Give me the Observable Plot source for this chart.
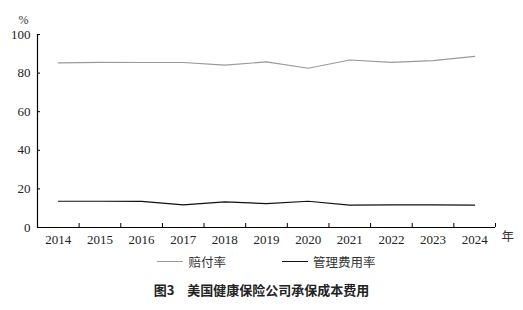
<!DOCTYPE html>
<html><head><meta charset="utf-8">
<script src="https://cdn.jsdelivr.net/npm/d3@7"></script>
<script src="https://cdn.jsdelivr.net/npm/@observablehq/plot@0.6"></script>
<style>
body{margin:0;background:#fff;}
#wrap{width:523px;}
#wrap svg text{font-family:"Liberation Serif","Times New Roman","DejaVu Serif",serif !important;}
#wrap svg text.cjk{font-family:"Noto Sans CJK SC",sans-serif !important;}
.leg{display:flex;justify-content:center;align-items:center;height:22px;font-family:"Noto Sans CJK SC";font-size:12.5px;color:#333;padding-left:10px;}
.leg span.sw{display:inline-block;width:26px;height:0;margin-right:5px;}
.leg .item{display:flex;align-items:center;margin:0 28px;}
.cap{text-align:center;font-family:"Noto Sans CJK SC";font-weight:bold;font-size:13px;color:#222;height:36px;line-height:36px;}
</style></head>
<body><div id="wrap"></div>
<script>
const years = [2014,2015,2016,2017,2018,2019,2020,2021,2022,2023,2024];
const lossRatio = [85.3,85.6,85.5,85.5,84.1,85.8,82.5,86.8,85.6,86.5,88.7];
const adminRatio = [13.6,13.6,13.5,11.7,13.3,12.4,13.6,11.6,11.7,11.7,11.6];
const yTicks = [0,20,40,60,80,100];
const bounds = [2014.5,2015.5,2016.5,2017.5,2018.5,2019.5,2020.5,2021.5,2022.5,2023.5,2024.5];
const seriesNames = ["赔付率","管理费用率"];
const colors = ["#9a9a9a","#111"];

const data = [];
years.forEach((y,i)=>{
  data.push({year:y, value:lossRatio[i], s:seriesNames[0]});
  data.push({year:y, value:adminRatio[i], s:seriesNames[1]});
});

const chart = Plot.plot({
  width:523, height:250,
  marginLeft:37, marginRight:28, marginTop:34, marginBottom:23,
  style:{fontSize:"13px", color:"#222", background:"#fff"},
  x:{domain:[2013.5,2024.5]},
  y:{domain:[0,100]},
  color:{domain:seriesNames, range:colors},
  marks:[
    Plot.axisX({ticks:years, tickSize:0, tickPadding:7, tickFormat:d=>String(d), label:null, fontSize:13, fill:"#222"}),
    Plot.axisY({ticks:yTicks, tickSize:0, tickPadding:7, label:null, fontSize:13, fill:"#222"}),
    Plot.ruleX(bounds, {x:d=>d, y1:0, y2:0, insetTop:-4, stroke:"#000"}),
    Plot.ruleY(yTicks, {y:d=>d, x1:2013.5, x2:2013.5, insetRight:-3, stroke:"#000"}),
    Plot.ruleX([2013.5], {stroke:"#000", strokeWidth:1.2}),
    Plot.ruleY([0], {stroke:"#000", strokeWidth:1.2}),
    Plot.line(data, {x:"year", y:"value", z:"s", stroke:"s", strokeWidth:1.2}),
    Plot.text(["%"], {frameAnchor:"top-left", dx:-19, dy:-19, fontSize:12, fill:"#333"}),
    Plot.text(["年"], {frameAnchor:"bottom-right", dx:6, dy:13, textAnchor:"start", fontSize:12.5, fill:"#333", className:"cjkmark"})
  ]
});
chart.querySelectorAll("text").forEach(t=>{ if(/[\u4e00-\u9fff]/.test(t.textContent)) t.classList.add("cjk"); });
const wrap = document.getElementById("wrap");
wrap.appendChild(chart);
const leg = document.createElement("div");
leg.className="leg";
seriesNames.forEach((n,i)=>{
  const it=document.createElement("div"); it.className="item";
  const sw=document.createElement("span"); sw.className="sw"; sw.style.borderTop=`1.3px solid ${colors[i]}`;
  it.appendChild(sw); it.appendChild(document.createTextNode(n));
  leg.appendChild(it);
});
wrap.appendChild(leg);
const cap=document.createElement("div"); cap.className="cap";
cap.textContent="图3\u3000美国健康保险公司承保成本费用";
wrap.appendChild(cap);
</script></body></html>
